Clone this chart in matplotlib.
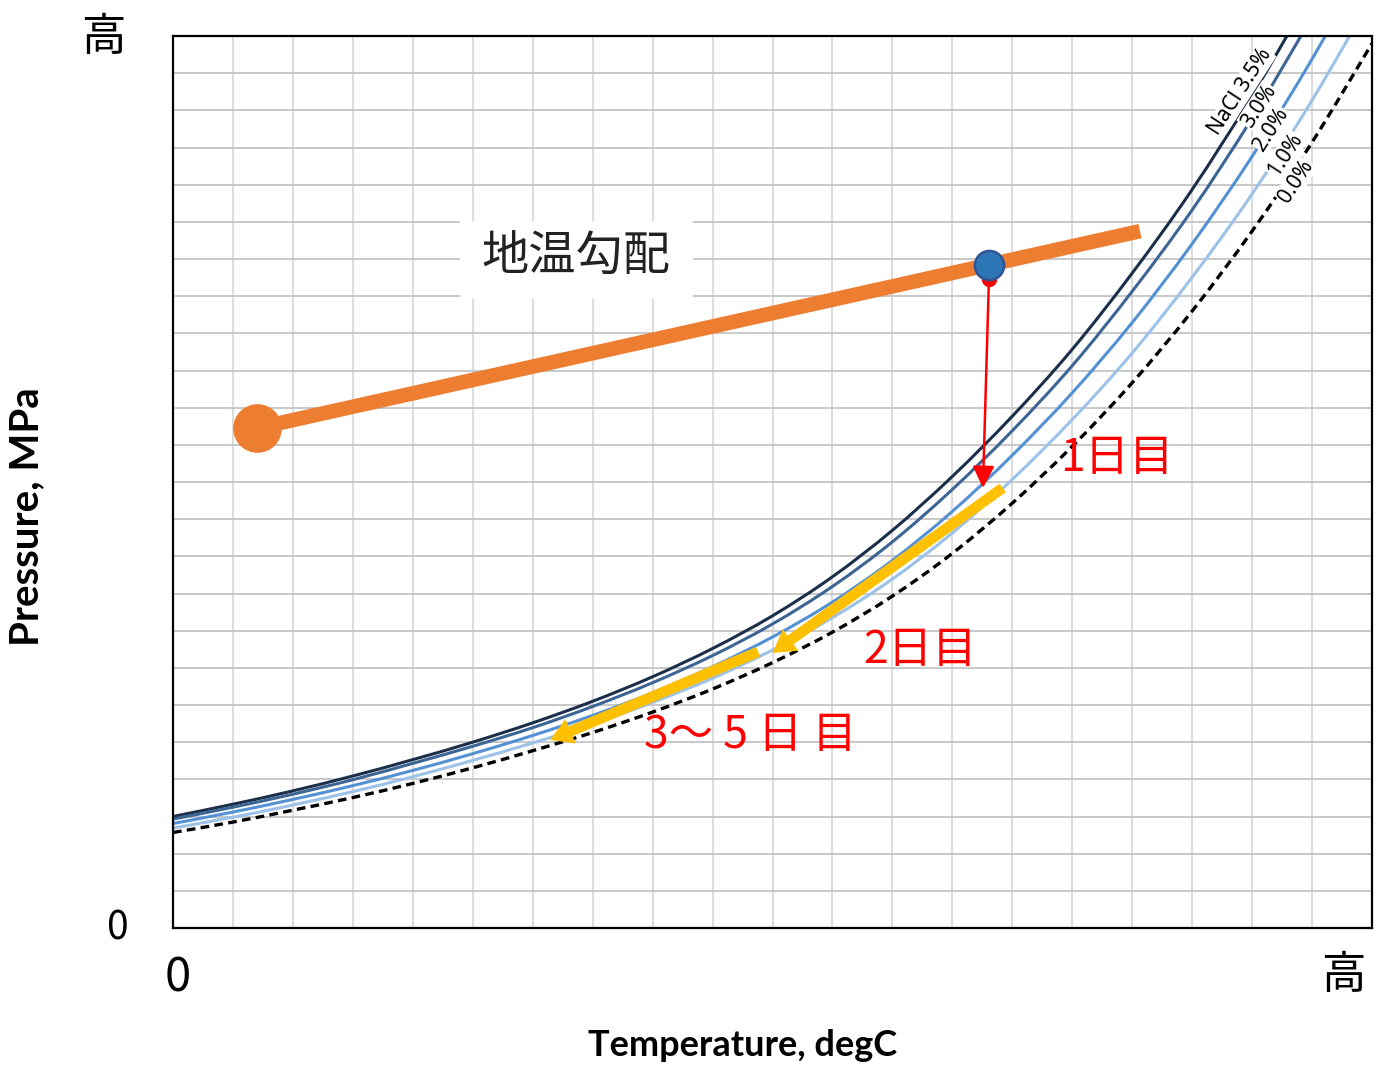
import matplotlib
matplotlib.use("Agg")
import matplotlib.pyplot as plt
from matplotlib.patches import Rectangle, PathPatch
from matplotlib.path import Path

plt.rcParams['font.family'] = ['Noto Sans CJK JP', 'DejaVu Sans']

# ---------------- data (arbitrary chart units) ----------------
temperature = list(range(21))
nacl_35 = [3.00, 3.33, 3.69, 4.09, 4.53, 5.00, 5.52, 6.10, 6.76, 7.52, 8.40,
           9.45, 10.70, 12.15, 13.77, 15.57, 17.62, 19.87, 22.40, 25.20, 28.20]
nacl_30 = [2.93, 3.25, 3.60, 3.99, 4.43, 4.89, 5.39, 5.96, 6.60, 7.33, 8.18,
           9.19, 10.39, 11.80, 13.38, 15.13, 17.13, 19.32, 21.79, 24.53, 27.49]
nacl_20 = [2.81, 3.12, 3.46, 3.83, 4.24, 4.69, 5.18, 5.72, 6.33, 7.03, 7.83,
           8.77, 9.89, 11.21, 12.72, 14.40, 16.29, 18.41, 20.76, 23.38, 26.25]
nacl_10 = [2.69, 2.98, 3.31, 3.67, 4.07, 4.51, 4.98, 5.49, 6.07, 6.72, 7.48,
           8.35, 9.39, 10.63, 12.07, 13.68, 15.47, 17.51, 19.75, 22.27, 25.06]
nacl_00 = [2.57, 2.85, 3.17, 3.51, 3.89, 4.31, 4.77, 5.26, 5.81, 6.43, 7.14,
           7.96, 8.93, 10.08, 11.43, 12.96, 14.67, 16.60, 18.75, 21.14, 23.80]
curve_labels = ['NaCl 3.5%', '3.0%', '2.0%', '1.0%', '0.0%']

geotherm_T = [1.40, 16.13]
geotherm_P = [13.45, 18.75]
well_T, well_P = 13.61, 17.84           # blue point on the geotherm
drop_T, drop_P = 13.51, 11.84           # red arrow end
day2_from, day2_to = (13.84, 11.84), (10.00, 7.40)
day35_from, day35_to = (9.76, 7.43), (6.29, 5.06)


def smooth_path(xs, ys):
    """Catmull-Rom smoothed path through the data points (drawing only)."""
    pts = list(zip(xs, ys))
    verts = [pts[0]]
    codes = [Path.MOVETO]
    n = len(pts)
    for i in range(n - 1):
        p0 = pts[i - 1] if i > 0 else pts[i]
        p1 = pts[i]
        p2 = pts[i + 1]
        p3 = pts[i + 2] if i + 2 < n else pts[i + 1]
        c1 = (p1[0] + (p2[0] - p0[0]) / 6, p1[1] + (p2[1] - p0[1]) / 6)
        c2 = (p2[0] - (p3[0] - p1[0]) / 6, p2[1] - (p3[1] - p1[1]) / 6)
        verts += [c1, c2, p2]
        codes += [Path.CURVE4] * 3
    return Path(verts, codes)


# ---------------- figure ----------------
fig = plt.figure(figsize=(13.83, 10.81), dpi=100)
ax = fig.add_axes([173/1383, 1-928/1081, 1199/1383, 892/1081])
ax.set_xlim(0, 20)
ax.set_ylim(0, 24)
ax.set_xticks(range(0, 21))
ax.set_yticks(range(0, 25))
ax.tick_params(length=0, labelbottom=False, labelleft=False)
ax.grid(True, axis='x', color='#D9D9D9', lw=1.3, zorder=0)
ax.grid(True, axis='y', color='#C4C4C4', lw=1.3, zorder=0)
ax.set_axisbelow(True)
for s in ax.spines.values():
    s.set_color('black')
    s.set_linewidth(1.6)

series = [nacl_35, nacl_30, nacl_20, nacl_10, nacl_00]
colors = ['#1B2F4A', '#3D6594', '#5491D4', '#9CC2E8', 'black']
for vals, c in zip(series, colors):
    dashed = (c == 'black')
    patch = PathPatch(smooth_path(temperature, vals), fill=False, edgecolor=c,
                      lw=2.4 if dashed else 2.2,
                      linestyle=(0, (2.6, 1.6)) if dashed else '-',
                      capstyle='butt', zorder=2)
    ax.add_patch(patch)

label_pos = [(17.80, 22.49), (18.11, 22.11), (18.31, 21.50), (18.55, 20.80), (18.73, 20.08)]
for (lx, ly), lab in zip(label_pos, curve_labels):
    ax.text(lx, ly, lab, rotation=57, ha='center', va='center', fontsize=15,
            family=['Noto Sans', 'DejaVu Sans'], color='black', zorder=4,
            bbox=dict(facecolor='white', edgecolor='none', pad=0.5))

# geothermal gradient
ax.plot(geotherm_T, geotherm_P, color='#ED7D31', lw=10.5, solid_capstyle='butt', zorder=5)
ax.plot([geotherm_T[0]], [geotherm_P[0]], 'o', color='#ED7D31', ms=34, zorder=5)

# red drop arrow
ax.plot([well_T], [well_P - 0.37], 'o', color='red', ms=10, zorder=6)
ax.annotate('', xy=(drop_T, drop_P), xytext=(well_T, well_P - 0.37),
            arrowprops=dict(arrowstyle='-|>,head_length=0.6,head_width=0.3',
                            color='red', lw=1.8, mutation_scale=22,
                            shrinkA=0, shrinkB=0), zorder=6)
ax.plot([well_T], [well_P], 'o', color='#2E75B6', mec='#2F5597', mew=1.8, ms=21, zorder=7)

# yellow arrows
for a, b in [(day2_from, day2_to), (day35_from, day35_to)]:
    ax.annotate('', xy=b, xytext=a,
                arrowprops=dict(arrowstyle='simple,tail_width=0.38,head_width=0.95,head_length=0.8',
                                color='#FFC000', lw=0, mutation_scale=20,
                                shrinkA=0, shrinkB=0), zorder=6)

# texts
ax.add_patch(Rectangle((4.79, 16.92), 3.88, 2.10, facecolor='white', edgecolor='none', zorder=3))
ax.text(6.72, 18.05, '地温勾配', ha='center', va='center', fontsize=34, color='#222222', zorder=4)
ax.text(15.75, 12.65, '1日目', ha='center', va='center', fontsize=32, color='red', zorder=6)
ax.text(12.46, 7.47, '2日目', ha='center', va='center', fontsize=32, color='red', zorder=6)
ax.text(9.64, 5.19, '3～ 5 日 目', ha='center', va='center', fontsize=32, color='red', zorder=6)

# axis end labels
fig.text(178/1383, 1-978/1081, '0', ha='center', va='center', fontsize=34)
fig.text(1343/1383, 1-975/1081, '高', ha='center', va='center', fontsize=32)
fig.text(103/1383, 1-37/1081, '高', ha='center', va='center', fontsize=32)
fig.text(118/1383, 1-929/1081, '0', ha='center', va='center', fontsize=28)

fig.text(743/1383, 1-1046/1081, 'Temperature, degC', ha='center', va='center',
         fontsize=26, fontweight='bold', family=['Lato', 'DejaVu Sans'])
fig.text(27/1383, 1-517/1081, 'Pressure, MPa', ha='center', va='center', rotation=90,
         fontsize=29, fontweight='bold', family=['Lato', 'DejaVu Sans'])

fig.savefig('out.png', dpi=100, facecolor='white')
